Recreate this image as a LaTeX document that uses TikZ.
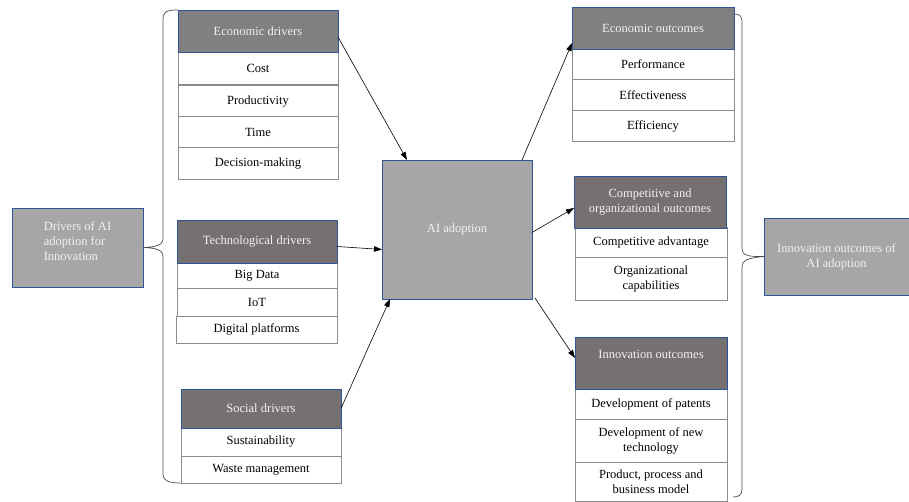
\documentclass[tikz,border=0pt]{standalone}
\usepackage{fontspec}
\setmainfont{Liberation Serif}
\usetikzlibrary{arrows.meta,calc}
\definecolor{hdrgrayc}{HTML}{808080}
\definecolor{hdrbrownc}{HTML}{767171}
\definecolor{bigboxc}{HTML}{A6A6A6}
\definecolor{edgeblue}{HTML}{2F5597}
\definecolor{itemgray}{HTML}{8C8C8C}
\definecolor{lighttext}{HTML}{F2F2F2}
\begin{document}
\begin{tikzpicture}[x=1pt,y=-1pt,
  base/.style={rectangle, inner sep=2pt, outer sep=0pt, anchor=north west, align=center,
               font=\fontsize{12.5}{15}\selectfont},
  hdr/.style={base, draw=edgeblue, line width=0.8pt, text=lighttext},
  hdrgray/.style={hdr, fill=hdrgrayc},
  hdrbrown/.style={hdr, fill=hdrbrownc},
  itembox/.style={base, draw=itemgray, line width=1pt, fill=white, text=black},
  bigbox/.style={base, fill=bigboxc, draw=edgeblue, line width=0.8pt, text=lighttext},
  arr/.style={-{Triangle[length=8pt,width=5.5pt]}, line width=0.6pt, draw=black},
  bracel/.style={draw=black!70, line width=0.7pt}]

\useasboundingbox (0,0) rectangle (909,502);

% ---------- Drivers ----------
\node[bigbox, minimum width=131, minimum height=79] (drv) at (12,208)
  {\raisebox{5pt}[\height][\depth]{\begin{tabular}{@{}l@{}}Drivers of AI\\adoption for\\Innovation\end{tabular}}};

% Economic drivers
\node[itembox, minimum width=160, minimum height=33] (e1) at (178,52) {Cost};
\node[itembox, minimum width=160, minimum height=31] (e2) at (178,86) {Productivity};
\node[itembox, minimum width=160, minimum height=31] (e3) at (e2.south west) {Time};
\node[itembox, minimum width=160, minimum height=32] (e4) at (e3.south west) {Decision-making};
\node[hdrgray, minimum width=160, minimum height=42] (ed) at (178,10) {Economic drivers};

% Technological drivers
\node[itembox, minimum width=160, minimum height=26] (t1) at (177,263) {Big Data};
\node[itembox, minimum width=160, minimum height=27] (t2) at (t1.south west) {IoT};
\node[itembox, minimum width=161, minimum height=27] (t3) at (176,316) {Digital platforms};
\node[hdrbrown, minimum width=160, minimum height=43] (td) at (177,220) {Technological drivers};

% Social drivers
\node[itembox, minimum width=160, minimum height=28] (s1) at (181,428) {Sustainability};
\node[itembox, minimum width=160, minimum height=27] (s2) at (s1.south west) {Waste management};
\node[hdrbrown, minimum width=160, minimum height=39] (sd) at (181,389) {Social drivers};

% ---------- AI adoption ----------
\node[bigbox, minimum width=150, minimum height=139] (ai) at (382,160) {AI adoption};

% ---------- Outcomes ----------
\node[itembox, minimum width=162, minimum height=31] (o1) at (572,49) {Performance};
\node[itembox, minimum width=162, minimum height=31] (o2) at (o1.south west) {Effectiveness};
\node[itembox, minimum width=162, minimum height=31] (o3) at (o2.south west) {Efficiency};
\node[hdrgray, minimum width=162, minimum height=42] (eo) at (572,7) {Economic outcomes};

\node[itembox, minimum width=152, minimum height=30] (c1) at (575,228) {Competitive advantage};
\node[itembox, minimum width=152, minimum height=42] (c2) at (c1.south west) {Organizational\\capabilities};
\node[hdrbrown, minimum width=152, minimum height=52] (co) at (574,176) {Competitive and\\organizational outcomes};

\node[itembox, minimum width=152, minimum height=30] (i1) at (575,389) {Development of patents};
\node[itembox, minimum width=152, minimum height=43] (i2) at (i1.south west) {Development of new\\technology};
\node[itembox, minimum width=152, minimum height=39] (i3) at (i2.south west) {Product, process and\\business model};
\node[hdrbrown, minimum width=152, minimum height=52] (io) at (575,337)
  {\raisebox{9pt}[\height][\depth]{Innovation outcomes}};

\node[bigbox, minimum width=145, minimum height=77] (inn) at (764,218)
  {Innovation outcomes of\\AI adoption};

% ---------- Braces ----------
\draw[bracel] (ed.north west) .. controls (166,10) and (163,12) .. (163,20)
  -- (163,238) .. controls (163,245) and (157,247) .. (drv.east)
  .. controls (157,248) and (163,250) .. (163,257)
  -- (163,474) .. controls (163,481) and (169,483) .. (s2.south west);

\coordinate (rtop) at ([yshift=-7pt]eo.north east);
\coordinate (rbot) at ([xshift=6pt,yshift=4pt]i3.south east);
\draw[bracel] (rtop) .. controls (740,14) and (742,16) .. (742,23)
  -- (742,249) .. controls (742,255) and (748,257) .. (inn.west)
  .. controls (748,258) and (742,260) .. (742,267)
  -- (742,489) .. controls (742,495) and (739,497) .. (rbot);

% ---------- Arrows ----------
\draw[arr] ([yshift=-6pt]ed.east) -- ([xshift=25pt]ai.north west);
\draw[arr] ([yshift=-5pt]td.east) -- ([yshift=-20pt]ai.west);
\draw[arr] (sd.east) -- ([xshift=8pt]ai.south west);
\draw[arr] ([xshift=-10pt]ai.north east) -- ([yshift=6pt]eo.south west);
\draw[arr] ([yshift=-3pt]ai.east) -- ([yshift=-6pt]co.west);
\draw[arr] ([xshift=3pt,yshift=1pt]ai.south east) -- ([yshift=5pt]io.west);
\end{tikzpicture}
\end{document}
